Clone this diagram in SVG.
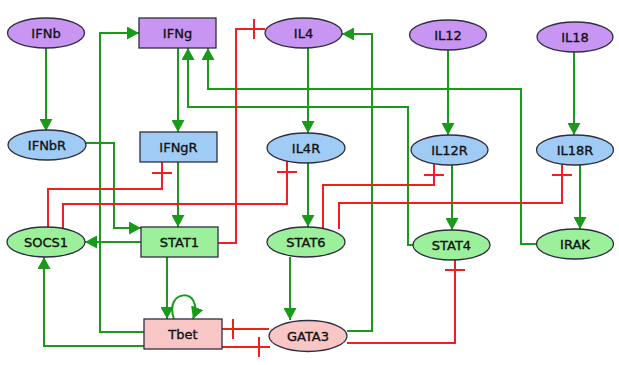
<svg xmlns="http://www.w3.org/2000/svg" width="619" height="365" viewBox="0 0 619 365">
  <style>
    .node { stroke: #2e2e40; stroke-width: 1.3; }
    .ligand { fill: #c896f2; }
    .receptor { fill: #a0cbf5; }
    .tf { fill: #9cf09c; }
    .th { fill: #f9c6c6; }
    .label { font-family: "DejaVu Sans", "Verdana", sans-serif; font-size: 13px; fill: #111; stroke: #111; stroke-width: 0.35; text-anchor: middle; dominant-baseline: central; }
    .act { fill: none; stroke: #1a9a1a; stroke-width: 2; marker-end: url(#arrow); }
    .inh { fill: none; stroke: #f02020; stroke-width: 2; marker-end: url(#tbar); }
  </style>
  <defs>
    <marker id="arrow" viewBox="0 0 12 13" refX="12" refY="6.5" markerWidth="12" markerHeight="13" markerUnits="userSpaceOnUse" orient="auto">
      <path d="M0,0 L12,6.5 L0,13 z" fill="#1a9a1a"/>
    </marker>
    <marker id="tbar" viewBox="0 0 12 20" refX="12" refY="10" markerWidth="12" markerHeight="20" markerUnits="userSpaceOnUse" orient="auto">
      <path d="M1,0 L1,20" stroke="#f02020" stroke-width="2" fill="none"/>
    </marker>
  </defs>

  <g id="edges">
    <!-- activations -->
    <path class="act" d="M46,48 V131"/>
    <path class="act" d="M178,48 V132"/>
    <path class="act" d="M308,48 V133"/>
    <path class="act" d="M448,50 V135"/>
    <path class="act" d="M574,52 V135"/>
    <path class="act" d="M178,162 V227"/>
    <path class="act" d="M308,163 V227"/>
    <path class="act" d="M452,165 V230"/>
    <path class="act" d="M580,165 V229"/>
    <path class="act" d="M86,143 H114 V228 H141"/>
    <path class="act" d="M141,242 H85"/>
    <path class="act" d="M167,257 V319"/>
    <path class="act" d="M174,319 C163,288 205,287 193,319"/>
    <path class="act" d="M144,346 H44 V257"/>
    <path class="act" d="M144,332 H100 V33 H139"/>
    <path class="act" d="M347,331 H372 V34 H342"/>
    <path class="act" d="M290,257 V320"/>
    <path class="act" d="M413,245 H408 V107 H188 V48"/>
    <path class="act" d="M536,244 H521 V89 H208 V48"/>
    <!-- inhibitions -->
    <path class="inh" d="M218,243 H236 V29 H265"/>
    <path class="inh" d="M48,228 V189 H162 V162"/>
    <path class="inh" d="M63,228 V204 H287 V161"/>
    <path class="inh" d="M323,229 V185 H434 V164"/>
    <path class="inh" d="M339,229 V203 H562 V164"/>
    <path class="inh" d="M347,343 H455 V259"/>
    <path class="inh" d="M269,329 H222"/>
    <path class="inh" d="M222,347 H270"/>
  </g>

  <g id="IFNb"><ellipse class="node ligand" cx="46" cy="33" rx="38.5" ry="15"/><text class="label" x="46" y="33">IFNb</text></g>
  <g id="IFNg"><rect class="node ligand" x="139" y="18" width="77" height="30"/><text class="label" x="177.5" y="33">IFNg</text></g>
  <g id="IL4"><ellipse class="node ligand" cx="303.5" cy="33" rx="38.5" ry="15"/><text class="label" x="303.5" y="33">IL4</text></g>
  <g id="IL12"><ellipse class="node ligand" cx="448" cy="35" rx="38.5" ry="15"/><text class="label" x="448" y="35">IL12</text></g>
  <g id="IL18"><ellipse class="node ligand" cx="575" cy="37" rx="38" ry="15"/><text class="label" x="575" y="37">IL18</text></g>

  <g id="IFNbR"><ellipse class="node receptor" cx="47" cy="145" rx="39" ry="15"/><text class="label" x="47" y="145">IFNbR</text></g>
  <g id="IFNgR"><rect class="node receptor" x="140" y="132" width="77" height="30"/><text class="label" x="178.5" y="147">IFNgR</text></g>
  <g id="IL4R"><ellipse class="node receptor" cx="306" cy="148" rx="39" ry="15"/><text class="label" x="306" y="148">IL4R</text></g>
  <g id="IL12R"><ellipse class="node receptor" cx="449.5" cy="150" rx="38.5" ry="15"/><text class="label" x="449.5" y="150">IL12R</text></g>
  <g id="IL18R"><ellipse class="node receptor" cx="575" cy="150" rx="38.5" ry="15"/><text class="label" x="575" y="150">IL18R</text></g>

  <g id="SOCS1"><ellipse class="node tf" cx="46" cy="242" rx="39" ry="15"/><text class="label" x="46" y="242">SOCS1</text></g>
  <g id="STAT1"><rect class="node tf" x="141" y="227" width="77" height="30"/><text class="label" x="179.5" y="242">STAT1</text></g>
  <g id="STAT6"><ellipse class="node tf" cx="306" cy="242" rx="39" ry="15"/><text class="label" x="306" y="242">STAT6</text></g>
  <g id="STAT4"><ellipse class="node tf" cx="451.5" cy="245" rx="38.5" ry="15"/><text class="label" x="451.5" y="245">STAT4</text></g>
  <g id="IRAK"><ellipse class="node tf" cx="575" cy="244" rx="38.5" ry="15"/><text class="label" x="575" y="244">IRAK</text></g>

  <g id="Tbet"><rect class="node th" x="144" y="319" width="78" height="30"/><text class="label" x="183" y="334">Tbet</text></g>
  <g id="GATA3"><ellipse class="node th" cx="308" cy="336" rx="39" ry="15.5"/><text class="label" x="308" y="336">GATA3</text></g>
</svg>
